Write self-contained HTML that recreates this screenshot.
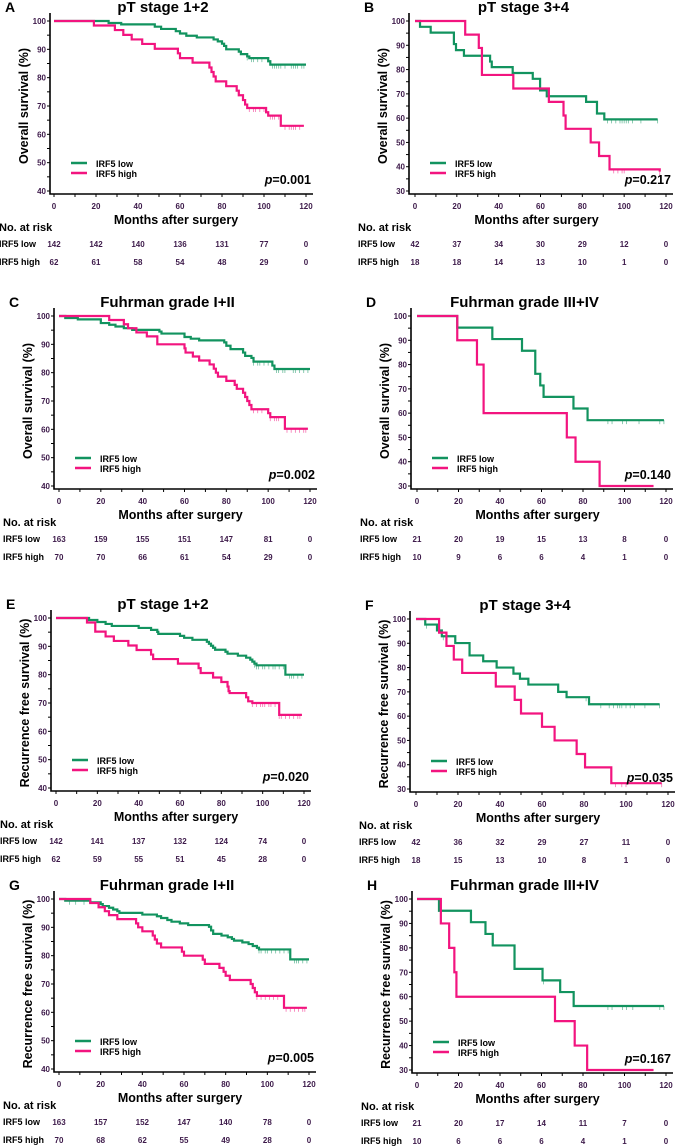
<!DOCTYPE html>
<html><head><meta charset="utf-8"><style>
html,body{margin:0;padding:0;background:#fff;}
svg{display:block;font-family:"Liberation Sans",Arial,sans-serif;}
</style></head><body>
<svg id="fig" width="675" height="1146" viewBox="0 0 675 1146" xmlns="http://www.w3.org/2000/svg"></svg>
<script>
// ===== data =====
const xTicks = [0,20,40,60,80,100,120];
const riskLabels = ["IRF5 low","IRF5 high"];
// A
const aLowT=[0,26,32,48,51,58,60,63,68,76,78,80,81,82,88,89,92,93,102,103,120];
const aLowS=[100,99.3,98.8,98.0,97.2,96.4,95.6,94.8,94.2,93.5,92.8,92.0,91.2,90.0,89.2,88.3,87.5,86.9,85.8,84.6,84.6];
const aHighT=[0,19,29,33,37,42,48,59,60,66,74,75,76,77,82,87,88,90,91,92,101,102,108,119];
const aHighS=[100,98.4,96.8,95.1,93.5,91.9,90.2,88.6,86.9,85.3,83.6,82.0,80.4,78.7,77.0,75.4,73.8,72.1,70.5,69.3,67.8,66.6,63.0,63.0];
const aLowC=[92,94,95,97,99,104,105,106,107,108,110,113,114,115,116,118,119];
const aHighC=[93,95,96,98,100,103,104,105,107,110,112,113,114,115,117];
const aRiskLow=[142,142,140,136,131,77,0], aRiskHigh=[62,61,58,54,48,29,0];
// B
const bLowT=[0,2.4,7.5,18.6,19.6,23.4,35.9,36.7,46.7,56.3,59.8,63,81.8,87,90.5,116];
const bLowS=[100,97.6,95.2,90.5,88,85.7,83.3,81,78.6,76.2,71.4,69,66.7,61.9,59.5,59.5];
const bHighT=[0,24,30.5,32,47,64,71,72,84,88,93,117];
const bHighS=[100,94.4,88.9,77.8,72.2,66.7,61.1,55.6,50,44.4,38.9,38];
const bLowC=[92,94,96,98,99,100,101,102,104,108,116];
const bHighC=[95,97,99,100,117];
const bRiskLow=[42,37,34,30,29,12,0], bRiskHigh=[18,18,14,13,10,1,0];
// C
const cLowT=[0,3,9,20,24,27,31,35,48,49,60,63,67,79,80,82,88,89,92,93,102,103,120];
const cLowS=[100,99.3,98.8,97.5,96.9,96.3,95.7,95.1,94.5,93.8,92.6,92,91.4,90.7,89.5,88.3,87.1,85.9,85.2,83.9,82.5,81.3,81.3];
const cHighT=[0,24,31,33,37,42,47,60,60.5,64,67,72,74,75,76,80,84,85,88,89,90,91,92,100,101,108,119];
const cHighS=[100,98.6,97.1,95.7,94.2,92.8,90,88.6,87.1,85.7,84.3,82.9,81.4,80,78.6,77.1,75.7,74.3,72.9,71.4,70,68.6,67.1,65.7,64.3,60.2,60.2];
const cLowC=[93,95,96,98,100,104,105,107,108,112,113,115,117,119];
const cHighC=[93,95,97,101,103,104,105,109,111,113,115,117,118];
const cRiskLow=[163,159,155,151,147,81,0], cRiskHigh=[70,70,66,61,54,29,0];
// D
const dLowT=[0,19.4,36.3,50.6,57,59.4,61,75.4,82.2,119];
const dLowS=[100,95.2,90.5,85.7,76.2,71.4,66.7,61.9,57.1,57.1];
const dHighT=[0,19.4,28.9,32.1,72.2,76.4,88,114];
const dHighS=[100,90,80,60,50,40,30,30];
const dLowC=[92,94,99,101,107,117,119];
const dHighC=[];
const dRiskLow=[21,20,19,15,13,8,0], dRiskHigh=[10,9,6,6,4,1,0];
// E
const eLowT=[0,16,20,24,27,40,46,49,49.5,60,62,66,73,74,75,76,77,82,83,88,92,94,95,96,97,111,120];
const eLowS=[100,99.3,98.6,97.9,97.2,96.5,95.8,95.1,94.4,93.7,93,92.3,91.6,90.9,90.2,89.5,88.8,88.1,87.4,86.7,86,85.3,84.6,83.9,83.3,80,80];
const eHighT=[0,15,19,24,28,35,39,46,47,59,69,70,76,80,83,83.5,84,92,93,95,108,119];
const eHighS=[100,98.4,95.2,93.5,91.9,90.3,88.7,87.1,85.5,83.9,82.3,80.6,79,77.4,75.8,74.2,73.5,72,70.6,70,65.8,65.8];
const eLowC=[96,97,98,100,101,103,105,106,108,110,113,114,115,117,119];
const eHighC=[95,97,99,100,101,103,104,106,108,109,111,113,115,117,118];
const eRiskLow=[142,141,137,132,124,74,0], eRiskHigh=[62,59,55,51,45,28,0];
// F
const fLowT=[0,4.4,10,12.3,18.7,25.5,32,38.4,46.4,49.5,53.5,67.7,71.7,82.4,116];
const fLowS=[100,97.7,95.3,92.9,90.1,85,82.6,80,77.5,75.4,73,70,67.8,64.9,64.9];
const fHighT=[0,11,14.5,18,22,38,47,50,60,66,76.5,80.5,93,117];
const fHighS=[100,94.4,88.9,83.3,77.8,72.2,66.7,61.1,55.6,50,44.4,38.9,32.4,32.4];
const fLowC=[5,13,81,88,92,94,96,97,98,100,102,104,109,116];
const fHighC=[95,98,100,117];
const fRiskLow=[42,36,32,29,27,11,0], fRiskHigh=[18,15,13,10,8,1,0];
// G
const gLowT=[0,3,15,20,21,24,26,28,29,40,47,49,52,54,58,62,72,73,74,78,81,83,84,88,91,93,95,96,111,120];
const gLowS=[100,99.4,98.8,98.2,97.5,96.9,96.3,95.7,95.1,94.5,93.9,93.3,92.6,92,91.4,90.8,90.2,88.9,87.7,87.1,86.5,85.9,85.3,84.7,84.1,83.4,82.8,82.2,78.7,78.7];
const gHighT=[0,15,19,22,24,28,37,38,40,45,46,47,49,59,60,69,70,77,79,80,82,92,93,94,95,108,119];
const gHighS=[100,98.6,97.1,95.7,94.3,92.9,91.4,90,88.6,87.1,85.7,84.3,82.9,81.4,80,78.6,77.1,75.7,74.3,72.9,71.4,70,68.6,67.1,65.8,61.6,61.6];
const gLowC=[5,8,12,96,97,99,100,102,104,106,108,110,113,114,115,117,119];
const gHighC=[95,97,99,101,103,105,109,111,113,115,117,118];
const gRiskLow=[163,157,152,147,140,78,0], gRiskHigh=[70,68,62,55,49,28,0];
// H
const hLowT=[0,10.6,26,33,36.5,47,60.5,69,75.5,119];
const hLowS=[100,95.2,90.5,85.7,81,71.4,66.7,61.9,56.2,56.2];
const hHighT=[0,11.5,15.5,18,19,66.5,76,82,114];
const hHighS=[100,90,80,70,60,50,40,30,30];
const hLowC=[61,92,94,99,101,104,117,119];
const hHighC=[];
const hRiskLow=[21,20,17,14,11,7,0], hRiskHigh=[10,6,6,6,4,1,0];

const panels=[
 {id:"a",L:"A",title:"pT stage 1+2",yl:"Overall survival (%)",p:"0.001",ymin:40,x0:54,x1:306,yT:21,yB:191,ax:50,
  lowT:aLowT,lowS:aLowS,highT:aHighT,highS:aHighS,lowC:aLowC,highC:aHighC,rl:aRiskLow,rh:aRiskHigh},
 {id:"b",L:"B",title:"pT stage 3+4",yl:"Overall survival (%)",p:"0.217",ymin:30,x0:415,x1:666,yT:21,yB:191,ax:409,
  lowT:bLowT,lowS:bLowS,highT:bHighT,highS:bHighS,lowC:bLowC,highC:bHighC,rl:bRiskLow,rh:bRiskHigh},
 {id:"c",L:"C",title:"Fuhrman grade I+II",yl:"Overall survival (%)",p:"0.002",ymin:40,x0:59,x1:310,yT:316,yB:486,ax:54,
  lowT:cLowT,lowS:cLowS,highT:cHighT,highS:cHighS,lowC:cLowC,highC:cHighC,rl:cRiskLow,rh:cRiskHigh},
 {id:"d",L:"D",title:"Fuhrman grade III+IV",yl:"Overall survival (%)",p:"0.140",ymin:30,x0:417,x1:666,yT:316,yB:486,ax:411,
  lowT:dLowT,lowS:dLowS,highT:dHighT,highS:dHighS,lowC:dLowC,highC:dHighC,rl:dRiskLow,rh:dRiskHigh},
 {id:"e",L:"E",title:"pT stage 1+2",yl:"Recurrence free survival (%)",p:"0.020",ymin:40,x0:56,x1:304,yT:618,yB:788,ax:51,
  lowT:eLowT,lowS:eLowS,highT:eHighT,highS:eHighS,lowC:eLowC,highC:eHighC,rl:eRiskLow,rh:eRiskHigh},
 {id:"f",L:"F",title:"pT stage 3+4",yl:"Recurrence free survival (%)",p:"0.035",ymin:30,x0:416,x1:668,yT:619,yB:789,ax:410,
  lowT:fLowT,lowS:fLowS,highT:fHighT,highS:fHighS,lowC:fLowC,highC:fHighC,rl:fRiskLow,rh:fRiskHigh},
 {id:"g",L:"G",title:"Fuhrman grade I+II",yl:"Recurrence free survival (%)",p:"0.005",ymin:40,x0:59,x1:309,yT:899,yB:1069,ax:54,
  lowT:gLowT,lowS:gLowS,highT:gHighT,highS:gHighS,lowC:gLowC,highC:gHighC,rl:gRiskLow,rh:gRiskHigh},
 {id:"h",L:"H",title:"Fuhrman grade III+IV",yl:"Recurrence free survival (%)",p:"0.167",ymin:30,x0:417,x1:666,yT:899,yB:1070,ax:412,
  lowT:hLowT,lowS:hLowS,highT:hHighT,highS:hHighS,lowC:hLowC,highC:hHighC,rl:hRiskLow,rh:hRiskHigh}
];
const GREEN="#12935f", PINK="#f2147f", TICKC="#3d1a4a";
const NS="http://www.w3.org/2000/svg";
const svg=document.getElementById("fig");
function mk(tag,attrs,parent,txt){const e=document.createElementNS(NS,tag);for(const k in attrs)e.setAttribute(k,attrs[k]);if(txt!==undefined)e.textContent=txt;parent.appendChild(e);return e;}

panels.forEach(P=>{
  const g=mk("g",{},svg);
  
  
  const sx=t=>P.x0+(P.x1-P.x0)*t/120;
  const sy=v=>P.yB-(P.yB-P.yT)*(v-P.ymin)/(100-P.ymin);
  const base=P.yB+3;
  const lt=mk("text",{x:P.ax-45,y:P.yT-9,"font-size":14,"font-weight":"bold"},g,P.L);
  
  
  const tt=mk("text",{x:(P.x0+P.x1)/2-17,y:P.yT-9,"font-size":15,"font-weight":"bold","text-anchor":"middle"},g,P.title);
  
  
  const axes=mk("path",{d:`M${P.ax},${P.yT-8}V${base}H${P.x1+7}`,fill:"none",stroke:"#000","stroke-width":1.6},g);
  
  
  for(let t=0;t<=120;t+=10){mk("line",{x1:sx(t),x2:sx(t),y1:base,y2:base+3,stroke:"#000","stroke-width":1},g);}
  for(let v=P.ymin;v<=100;v+=5){mk("line",{x1:P.ax-3,x2:P.ax,y1:sy(v),y2:sy(v),stroke:"#000","stroke-width":1},g);}
  for(let v=P.ymin;v<=100;v+=10){
    const yt=mk("text",{x:P.ax-4,y:sy(v)+3,"font-size":8,"font-weight":"bold","text-anchor":"end",fill:TICKC},g,String(v));
    
    
  }
  xTicks.forEach(t=>{
    const xt=mk("text",{x:sx(t),y:P.yB+18,"font-size":8,"font-weight":"bold","text-anchor":"middle",fill:TICKC},g,String(t));
    
    
  });
  const yc=(P.yT+P.yB)/2;
  const ytl=mk("text",{x:P.ax-27,y:yc,"font-size":12.5,"font-weight":"bold","text-anchor":"middle",transform:`rotate(-90 ${P.ax-27} ${yc})`,dy:5},g,P.yl);
  
  
  const xtl=mk("text",{x:(P.x0+P.x1)/2-4,y:P.yB+33,"font-size":12.5,"font-weight":"bold","text-anchor":"middle"},g,"Months after surgery");
  
  
  function step(T,S){let d=`M${sx(T[0])},${sy(S[0])}`;for(let i=1;i<T.length;i++){d+=`H${sx(T[i])}V${sy(S[i])}`;}return d;}
  function valAt(T,S,t){let v=S[0];for(let i=0;i<T.length;i++){if(T[i]<=t)v=S[i];}return v;}
  [[P.lowT,P.lowS,P.lowC,GREEN,"irf5-low"],[P.highT,P.highS,P.highC,PINK,"irf5-high"]].forEach(([T,S,C,col,nm])=>{
    const cg=mk("g",{},g);
    C.forEach(t=>{const y=sy(valAt(T,S,t));mk("line",{x1:sx(t),x2:sx(t),y1:y,y2:y+4,stroke:col,"stroke-width":0.8,opacity:0.6},cg);});
    const pth=mk("path",{d:step(T,S),fill:"none",stroke:col,"stroke-width":2.2},g);
    
    
  });
  const lg=mk("g",{},g);
  
  
  mk("line",{x1:P.ax+21,x2:P.ax+37,y1:P.yB-28,y2:P.yB-28,stroke:GREEN,"stroke-width":2.5},lg);
  mk("text",{x:P.ax+46,y:P.yB-24,"font-size":9,"font-weight":"bold"},lg,"IRF5 low");
  mk("line",{x1:P.ax+21,x2:P.ax+37,y1:P.yB-18,y2:P.yB-18,stroke:PINK,"stroke-width":2.5},lg);
  mk("text",{x:P.ax+46,y:P.yB-14,"font-size":9,"font-weight":"bold"},lg,"IRF5 high");
  const pv=mk("text",{x:P.x1+5,y:P.yB-7,"font-size":12.5,"font-weight":"bold","text-anchor":"end"},g);
  
  
  mk("tspan",{"font-style":"italic"},pv,"p");
  mk("tspan",{},pv,"="+P.p);
  const rt=mk("g",{},g);
  
  
  mk("text",{x:P.ax-51,y:P.yB+40,"font-size":11,"font-weight":"bold"},rt,"No. at risk");
  [[P.rl,P.yB+56],[P.rh,P.yB+74]].forEach(([arr,y],ri)=>{
    mk("text",{x:P.ax-51,y:y,"font-size":9,"font-weight":"bold"},rt,riskLabels[ri]);
    arr.forEach((n,i)=>{mk("text",{x:sx(xTicks[i]),y:y,"font-size":8,"font-weight":"bold","text-anchor":"middle",fill:TICKC},rt,String(n));});
  });
});
</script>
</body></html>
